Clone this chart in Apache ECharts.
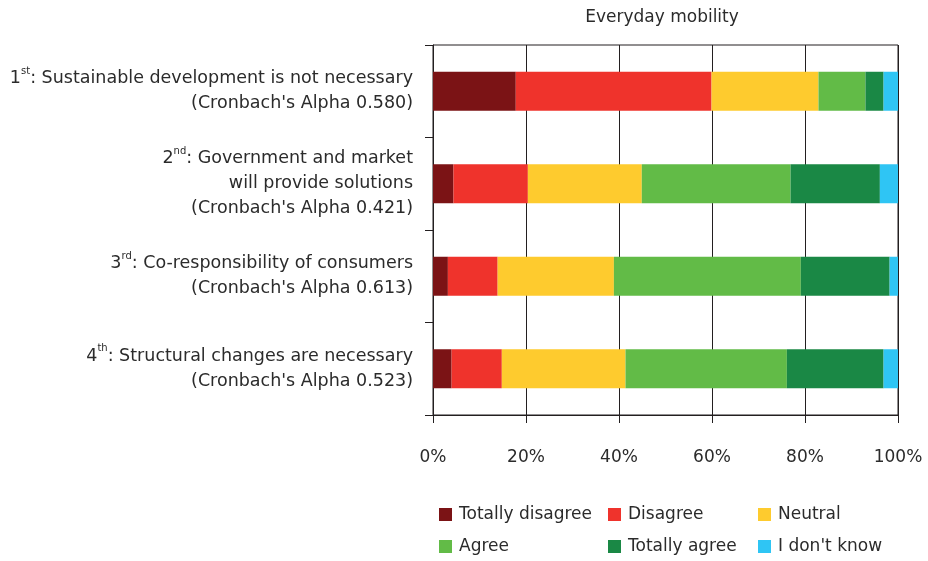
<!DOCTYPE html>
<html>
<head>
<meta charset="utf-8">
<script src="https://cdn.jsdelivr.net/npm/echarts@6/dist/echarts.min.js"></script>
<style>
  html, body { margin: 0; padding: 0; background: #fff; }
  #chart { width: 928px; height: 561px; }
</style>
</head>
<body>
<div id="chart"></div>
<script>
// Categories (top to bottom), written with rich-text superscripts
const categories = [
  '1{sup|st}: Sustainable development is not necessary\n(Cronbach\'s Alpha 0.580)',
  '2{sup|nd}: Government and market\nwill provide solutions\n(Cronbach\'s Alpha 0.421)',
  '3{sup|rd}: Co-responsibility of consumers\n(Cronbach\'s Alpha 0.613)',
  '4{sup|th}: Structural changes are necessary\n(Cronbach\'s Alpha 0.523)'
];

// Share of answers per category, in percent
const totallyDisagree = [17.8, 4.4, 3.2, 4.0];
const disagree        = [42.1, 16.0, 10.7, 10.8];
const neutral         = [23.0, 24.5, 25.0, 26.6];
const agree           = [10.1, 32.0, 40.2, 34.7];
const totallyAgree    = [3.9, 19.2, 19.1, 20.8];
const dontKnow        = [3.1, 3.9, 1.8, 3.1];

const seriesNames = ['Totally disagree', 'Disagree', 'Neutral', 'Agree', 'Totally agree', "I don't know"];
const seriesValues = [totallyDisagree, disagree, neutral, agree, totallyAgree, dontKnow];
const seriesColors = ['#7B1315', '#EF332C', '#FECB2E', '#62BB47', '#1A8845', '#2FC5F4'];

const xTicks = [0, 20, 40, 60, 80, 100];

const FONT = '"DejaVu Sans"';
const INK = '#231F20';
const TEXT = '#2b2b2b';

const chart = echarts.init(document.getElementById('chart'), null, { renderer: 'canvas' });

// Legend positions: three columns, two rows
const legendSlots = [
  { left: 439, top: 506 }, { left: 608, top: 506 }, { left: 758, top: 506 },
  { left: 439, top: 538 }, { left: 608, top: 538 }, { left: 758, top: 538 }
];

chart.setOption({
  backgroundColor: '#fff',
  animation: false,
  title: {
    text: 'Everyday mobility',
    left: 657,
    top: 4,
    textAlign: 'center',
    textStyle: { fontFamily: FONT, fontSize: 17, fontWeight: 'normal', color: TEXT }
  },
  legend: seriesNames.map((name, i) => ({
    data: [name],
    left: legendSlots[i].left,
    top: legendSlots[i].top,
    itemWidth: 13,
    itemHeight: 13,
    icon: 'rect',
    selectedMode: false,
    padding: 0,
    textStyle: { fontFamily: FONT, fontSize: 17, color: TEXT, padding: [0, 0, 0, 2] }
  })),
  grid: {
    left: 433,
    right: 30,
    top: 45,
    bottom: 146,
    show: true,
    borderColor: INK,
    borderWidth: 1,
    backgroundColor: 'transparent'
  },
  xAxis: {
    type: 'value',
    min: xTicks[0],
    max: xTicks[xTicks.length - 1],
    interval: 20,
    axisLine: { show: true, lineStyle: { color: INK, width: 1 } },
    axisTick: { show: true, length: 8, lineStyle: { color: INK } },
    splitLine: { show: true, lineStyle: { color: INK, width: 1 } },
    axisLabel: {
      formatter: '{value}%',
      fontFamily: FONT,
      fontSize: 17,
      color: TEXT,
      margin: 34
    }
  },
  yAxis: {
    type: 'category',
    data: categories,
    inverse: true,
    axisLine: { show: true, lineStyle: { color: INK, width: 1 } },
    axisTick: { show: true, length: 8, lineStyle: { color: INK } },
    splitLine: { show: false },
    axisLabel: {
      margin: 20,
      align: 'right',
      fontFamily: FONT,
      fontSize: 17.5,
      lineHeight: 25,
      color: TEXT,
      rich: {
        sup: { fontFamily: FONT, fontSize: 10, color: TEXT, verticalAlign: 'top', lineHeight: 25, padding: [0, 0, 6, 0] }
      }
    }
  },
  series: seriesNames.map((name, i) => ({
    name: name,
    type: 'bar',
    stack: 'total',
    barWidth: 39,
    data: seriesValues[i],
    itemStyle: { color: seriesColors[i] },
    emphasis: { disabled: true }
  }))
});
</script>
</body>
</html>
